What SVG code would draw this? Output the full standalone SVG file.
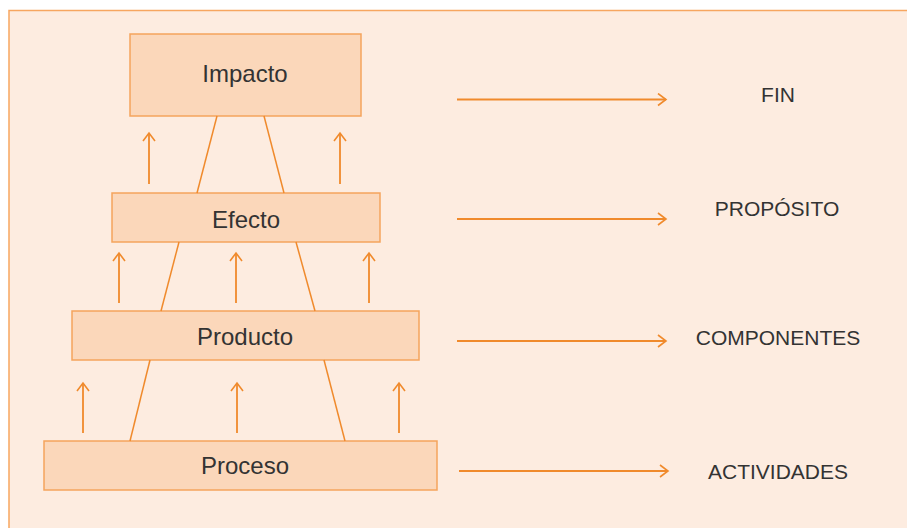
<svg xmlns="http://www.w3.org/2000/svg" width="907" height="528" viewBox="0 0 907 528">
  <defs>
    <marker id="chev" markerWidth="12" markerHeight="14" refX="10" refY="7" orient="auto" markerUnits="userSpaceOnUse">
      <path d="M2,1 L10,7 L2,13" fill="none" stroke="#F08A2C" stroke-width="1.6"/>
    </marker>
    <style>
      .frame { fill: #FDECE0; stroke: #F7A660; stroke-width: 1.5; }
      .box { fill: #FBD7BA; stroke: #F5A45C; stroke-width: 1.5; }
      .lbl { font-family: "Liberation Sans", Arial, sans-serif; font-size: 24px; fill: #333333; text-anchor: middle; }
      .side { font-family: "Liberation Sans", Arial, sans-serif; font-size: 21px; fill: #333333; text-anchor: middle; }
      .tie { stroke: #F08A2C; stroke-width: 1.5; fill: none; }
      .arr { stroke: #F08A2C; stroke-width: 1.8; fill: none; marker-end: url(#chev); }
    </style>
  </defs>

  <rect width="907" height="528" fill="#FFFFFF"/>
  <rect class="frame" x="9" y="10.5" width="910" height="530"/>

  <!-- pyramid levels -->
  <g id="impacto">
    <rect class="box" x="130" y="34" width="231" height="82"/>
    <text class="lbl" x="245" y="82">Impacto</text>
  </g>
  <g id="efecto">
    <rect class="box" x="112" y="193" width="268" height="49"/>
    <text class="lbl" x="246" y="228">Efecto</text>
  </g>
  <g id="producto">
    <rect class="box" x="72" y="311" width="347" height="49"/>
    <text class="lbl" x="245" y="345">Producto</text>
  </g>
  <g id="proceso">
    <rect class="box" x="44" y="441" width="393" height="49"/>
    <text class="lbl" x="245" y="474">Proceso</text>
  </g>

  <!-- logic-frame labels -->
  <g id="fin"><text class="side" x="778" y="102">FIN</text></g>
  <g id="proposito"><text class="side" x="777" y="216">PROPÓSITO</text></g>
  <g id="componentes"><text class="side" x="778" y="345">COMPONENTES</text></g>
  <g id="actividades"><text class="side" x="778" y="479">ACTIVIDADES</text></g>

  <g id="connectors">
    <!-- slanted pyramid edges -->
    <line class="tie" x1="217" y1="116" x2="197" y2="193"/>
    <line class="tie" x1="264" y1="116" x2="284" y2="193"/>
    <line class="tie" x1="179" y1="242" x2="161" y2="311"/>
    <line class="tie" x1="296" y1="242" x2="315" y2="311"/>
    <line class="tie" x1="150" y1="360" x2="130" y2="441"/>
    <line class="tie" x1="324" y1="360" x2="345" y2="441"/>

    <!-- upward arrows -->
    <line class="arr" x1="149" y1="184" x2="149" y2="133"/>
    <line class="arr" x1="340" y1="184" x2="340" y2="133"/>
    <line class="arr" x1="119" y1="303" x2="119" y2="253"/>
    <line class="arr" x1="236" y1="303" x2="236" y2="253"/>
    <line class="arr" x1="369" y1="303" x2="369" y2="253"/>
    <line class="arr" x1="83" y1="433" x2="83" y2="383"/>
    <line class="arr" x1="237" y1="433" x2="237" y2="383"/>
    <line class="arr" x1="399" y1="433" x2="399" y2="383"/>

    <!-- arrows to labels -->
    <line class="arr" x1="457" y1="99.5" x2="666" y2="99.5"/>
    <line class="arr" x1="457" y1="219" x2="666" y2="219"/>
    <line class="arr" x1="457" y1="341" x2="666" y2="341"/>
    <line class="arr" x1="459" y1="471" x2="668" y2="471"/>
  </g>
</svg>
